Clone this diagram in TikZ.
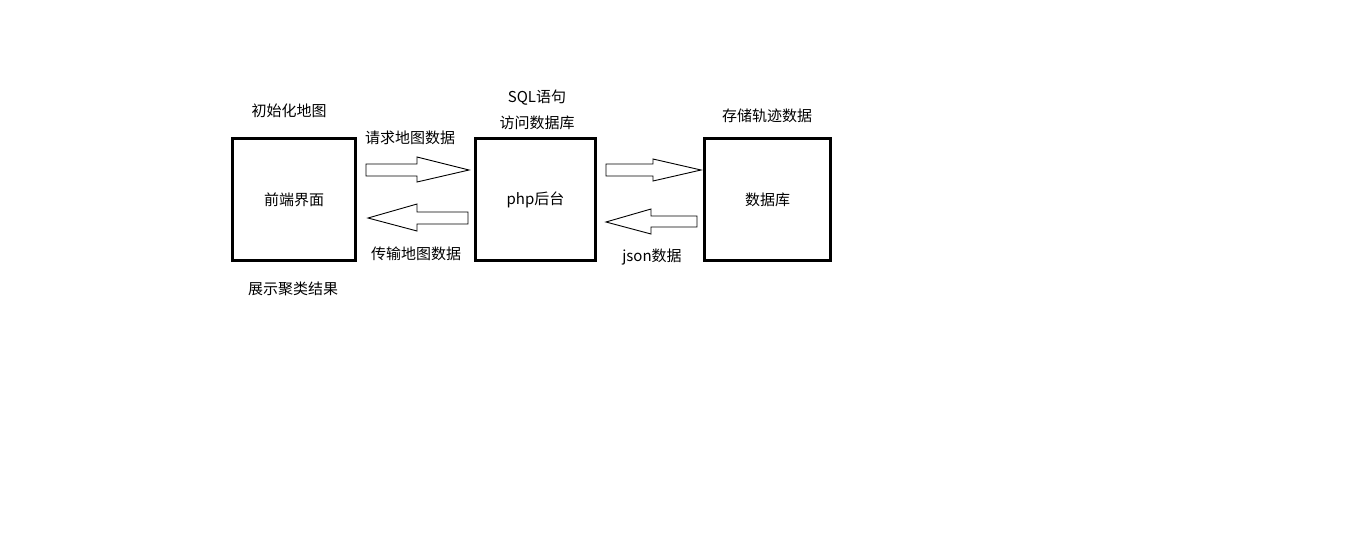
\documentclass[tikz,border=0pt]{standalone}
\usepackage{fontspec}
\setmainfont{Noto Sans CJK SC}
\begin{document}
\begin{tikzpicture}[x=1pt,y=-1pt,
  box/.style={draw=black,line width=3pt,minimum width=123pt,minimum height=122pt,inner sep=0pt},
  lbl/.style={font=\fontsize{15}{17}\selectfont,inner sep=0pt},
  blk/.style={draw=black,line width=0.9pt,fill=white,line join=miter}]
\useasboundingbox[fill=white] (0,0) rectangle (1360,536);
\node[box] (fe) at (294,199.5) {};
\node[box,minimum width=120pt] (php) at (535.5,199.5) {};
\node[box,minimum width=126pt] (db) at (767.5,199.5) {};
\node[lbl] at (fe.center) {前端界面};
\node[lbl] at (php.center) {php后台};
\node[lbl] at (db.center) {数据库};
\node[lbl] (t1) at (289,111) {初始化地图};
\node[lbl] (t2) at (293,289) {展示聚类结果};
\node[lbl] (t3) at (410,138) {请求地图数据};
\node[lbl] (t4) at (416,254) {传输地图数据};
\node[lbl] (t5) at (537,98) {SQL语句};
\node[lbl] (t6) at (537,123) {访问数据库};
\node[lbl] (t7) at (767,116) {存储轨迹数据};
\node[lbl] (t8) at (652,257) {json数据};
% block arrows
\draw[blk] (366,164) -- (417,164) -- (417,157) -- (469,170) -- (417,182) -- (417,176) -- (366,176) -- cycle;
\draw[blk] (468,212) -- (417,212) -- (417,204) -- (368,218) -- (417,231) -- (417,224) -- (468,224) -- cycle;
\draw[blk] (606,164) -- (653,164) -- (653,159) -- (701,170) -- (653,181) -- (653,176) -- (606,176) -- cycle;
\draw[blk] (697,216) -- (651,216) -- (651,209) -- (606,222) -- (651,234) -- (651,227) -- (697,227) -- cycle;
\end{tikzpicture}
\end{document}
